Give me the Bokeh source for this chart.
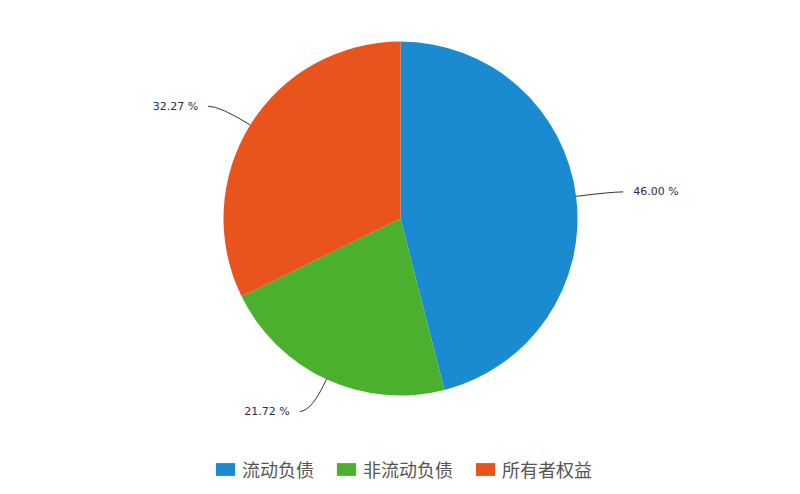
import math
from bokeh.plotting import figure
from bokeh.models import Range1d, Legend, LegendItem
from bokeh.core.properties import value
from bokeh.embed import file_html
from bokeh.resources import INLINE

# data
categories = ["流动负债", "非流动负债", "所有者权益"]
shares = [46.00, 21.72, 32.27]
labels = ["46.00 %", "21.72 %", "32.27 %"]
colors = ["#1b8bd1", "#4cb02f", "#e8541c"]

W, H = 792, 486
cx, cy, r = 400, H - 218, 177

p = figure(width=W, height=H, x_range=Range1d(0, W), y_range=Range1d(0, H),
           output_backend="svg", toolbar_location=None, min_border=0)
p.axis.visible = False
p.grid.visible = False
p.outline_line_color = None
p.background_fill_color = "white"

total = sum(shares)
starts, ends, mids = [], [], []
acc = 0.0
for s in shares:
    a0 = math.pi / 2 - acc / total * 2 * math.pi
    acc += s
    a1 = math.pi / 2 - acc / total * 2 * math.pi
    starts.append(a0)
    ends.append(a1)
    mids.append((a0 + a1) / 2)

pie = p.wedge(x=cx, y=cy, radius=r, start_angle=starts, end_angle=ends,
              direction="clock", fill_color=colors, line_color=None)

# leader lines + labels
for m, lab in zip(mids, labels):
    x0, y0 = cx + r * math.cos(m), cy + r * math.sin(m)
    xb, yb = cx + 1.2 * r * math.cos(m), cy + 1.2 * r * math.sin(m)
    side = 1 if math.cos(m) >= 0 else -1
    x1, y1 = xb + side * 12, yb
    p.quadratic(x0=[x0], y0=[y0], x1=[x1], y1=[y1], cx=[xb], cy=[yb],
                line_color="#333333", line_width=1)
    p.text(x=[x1 + side * 10], y=[y1], text=[lab],
           text_align="left" if side > 0 else "right", text_baseline="middle",
           text_font=value("DejaVu Sans"), text_font_size="11px",
           text_color="#2b2b55")

items = [LegendItem(label=c, renderers=[pie], index=i) for i, c in enumerate(categories)]
legend = Legend(items=items, orientation="horizontal", location=(213, 4),
                glyph_width=24, glyph_height=16, label_height=16,
                label_standoff=5, spacing=20, padding=0, margin=0,
                border_line_color=None, background_fill_alpha=0,
                label_text_font="Noto Sans CJK SC", label_text_font_size="18px",
                label_text_color="#555555")
p.add_layout(legend, "center")

open("out.html", "w").write(file_html(p, INLINE))
